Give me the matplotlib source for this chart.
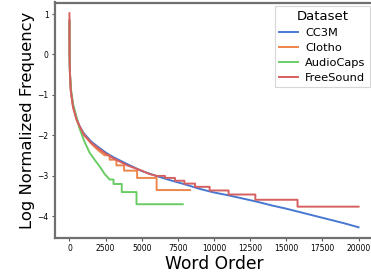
import numpy as np
import matplotlib
matplotlib.use('Agg')
import matplotlib.pyplot as plt

# word rank -> log10 normalized frequency
cc3m_rank = [1, 5, 15, 40, 100, 250, 500, 700, 1000, 1500, 2000, 2500, 3000,
             4000, 5000, 6000, 7000, 8000, 9000, 10000, 11000, 12000, 13000,
             14000, 15000, 16000, 17000, 18000, 19000, 20000]
cc3m_logf = [0.84, 0.3, -0.1, -0.5, -0.9, -1.27, -1.58, -1.77, -1.95, -2.15,
             -2.29, -2.42, -2.53, -2.71, -2.88, -3.0, -3.11, -3.21, -3.32,
             -3.41, -3.48, -3.56, -3.64, -3.73, -3.81, -3.9, -3.99, -4.08,
             -4.17, -4.27]

# smooth head, then stepped tail (rank where each level starts, level)
clotho_head_rank = [1, 5, 15, 40, 100, 250, 500, 700, 1000, 1500, 2000, 2430]
clotho_head_logf = [0.84, 0.3, -0.1, -0.5, -0.92, -1.3, -1.61, -1.8, -1.98,
                    -2.2, -2.37, -2.49]
clotho_step_rank = [2430, 2780, 3250, 3780, 4680, 6030, 8345]
clotho_step_logf = [-2.49, -2.6, -2.74, -2.87, -3.05, -3.35, -3.35]

audiocaps_head_rank = [1, 5, 15, 40, 100, 250, 500, 700, 1000, 1400, 1800,
                       2100, 2430, 2780]
audiocaps_head_logf = [0.8, 0.2, -0.2, -0.5, -0.85, -1.22, -1.57, -1.83,
                       -2.12, -2.43, -2.63, -2.77, -2.95, -3.09]
audiocaps_step_rank = [2780, 3050, 3620, 4640, 7840]
audiocaps_step_logf = [-3.09, -3.2, -3.4, -3.7, -3.7]

freesound_head_rank = [1, 3, 10, 30, 90, 250, 500, 1000, 1500, 2000, 2500,
                       3000, 4000, 5000, 5500, 6030]
freesound_head_logf = [1.02, 0.5, 0.0, -0.45, -0.88, -1.3, -1.62, -1.99,
                       -2.18, -2.32, -2.45, -2.56, -2.74, -2.87, -2.95, -3.0]
freesound_step_rank = [6030, 6610, 7300, 7950, 8690, 9700, 11010, 12860,
                       15780, 20000]
freesound_step_logf = [-3.0, -3.05, -3.12, -3.19, -3.27, -3.36, -3.46, -3.59,
                       -3.76, -3.76]


def stairs(rank, logf):
    x = np.repeat(rank, 2)[1:]
    y = np.repeat(logf, 2)[:-1]
    return x, y


def join(head_rank, head_logf, step_rank, step_logf):
    sx, sy = stairs(step_rank, step_logf)
    return np.concatenate([head_rank, sx[1:]]), np.concatenate([head_logf, sy[1:]])


fig = plt.figure(figsize=(3.71, 2.78), dpi=100)
ax = fig.add_axes([55 / 371, 40 / 278, 318 / 371, 235.5 / 278])

lw = 1.4
ax.plot(cc3m_rank, cc3m_logf, color='#4878d0', lw=lw, label='CC3M')
x, y = join(clotho_head_rank, clotho_head_logf, clotho_step_rank, clotho_step_logf)
ax.plot(x, y, color='#ee854a', lw=lw, label='Clotho')
x, y = join(audiocaps_head_rank, audiocaps_head_logf, audiocaps_step_rank, audiocaps_step_logf)
ax.plot(x, y, color='#6acc64', lw=lw, label='AudioCaps')
x, y = join(freesound_head_rank, freesound_head_logf, freesound_step_rank, freesound_step_logf)
ax.plot(x, y, color='#d65f5f', lw=lw, label='FreeSound')

ax.set_xticks(np.arange(0, 20001, 2500))
ax.set_yticks(np.arange(-4, 2, 1))
ax.tick_params(labelsize=5.5, length=2.5, width=0.8, color='#555555', pad=2)
for s in ax.spines.values():
    s.set_color('#707070')
    s.set_linewidth(1.6)

ax.set_xlabel('Word Order', fontsize=12.3, labelpad=1)
ax.set_ylabel('Log Normalized Frequency', fontsize=11.8, labelpad=2)

leg = ax.legend(title='Dataset', fontsize=8.2, title_fontsize=9.5,
                loc='upper right', handlelength=1.7, borderaxespad=0.3,
                labelspacing=0.45, handletextpad=0.6, borderpad=0.35,
                fancybox=False, edgecolor='#cccccc')
leg.get_frame().set_linewidth(0.8)

fig.savefig('out.png', dpi=100)
